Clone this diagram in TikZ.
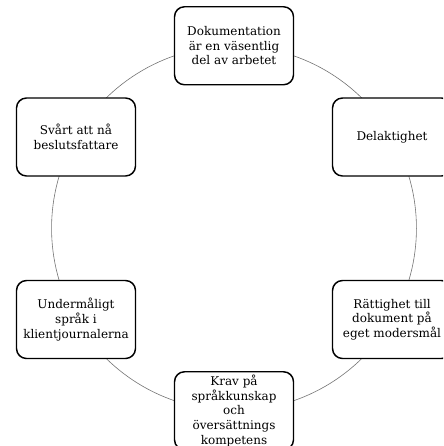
\documentclass[tikz,border=0pt]{standalone}
\usepackage{fontspec}
\setmainfont{DejaVu Serif}
\usetikzlibrary{backgrounds}
\begin{document}
\begin{tikzpicture}[x=0.75pt,y=-0.75pt,
  stepbox/.style={draw=black, line width=1.1pt, rounded corners=7.5pt, fill=white,
    minimum width=89.25pt, minimum height=58.5pt, align=center, inner sep=2pt,
    font=\fontsize{9}{11}\selectfont},
  ring/.style={draw=black!55, line width=0.45pt}]
\useasboundingbox (0,0) rectangle (443,446);
\clip (0,0) rectangle (443,446);
\node[stepbox] (top) at (234,45.75) {Dokumentation\\är en väsentlig\\del av arbetet};
\node[stepbox] (ru) at (392,137) {Delaktighet};
\node[stepbox] (rl) at (392,319.5) {Rättighet till\\dokument på\\eget modersmål};
\node[stepbox] (bot) at (234,410.75) {Krav på\\språkkunskap\\och\\översättnings\\kompetens};
\node[stepbox] (ll) at (76,319.5) {Undermåligt\\språk i\\klientjournalerna};
\node[stepbox] (lu) at (76,137) {Svårt att nå\\beslutsfattare};
\begin{scope}[on background layer]
  \draw[ring] (top.center) arc[start angle=90, end angle=150, radius=136.875pt];
  \draw[ring] (lu.center) arc[start angle=150, end angle=210, radius=136.875pt];
  \draw[ring] (ll.center) arc[start angle=210, end angle=270, radius=136.875pt];
  \draw[ring] (bot.center) arc[start angle=270, end angle=330, radius=136.875pt];
  \draw[ring] (rl.center) arc[start angle=330, end angle=390, radius=136.875pt];
  \draw[ring] (ru.center) arc[start angle=30, end angle=90, radius=136.875pt];
\end{scope}
\end{tikzpicture}
\end{document}
